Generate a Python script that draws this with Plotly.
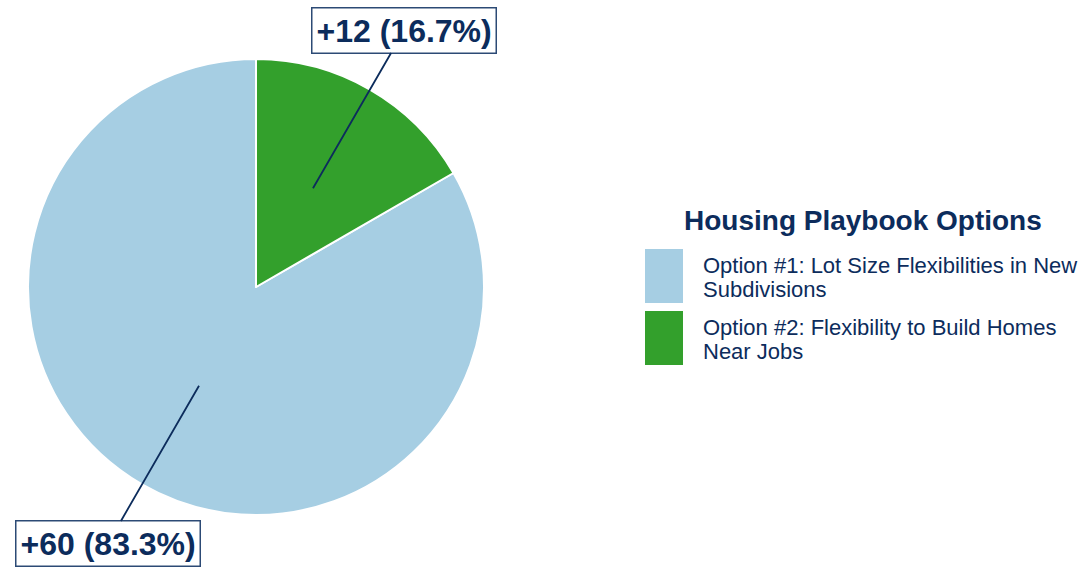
import math
import plotly.graph_objects as go

# ---- data ----
labels = ["Option #1: Lot Size Flexibilities in New<br>Subdivisions",
          "Option #2: Flexibility to Build Homes<br>Near Jobs"]
values = [60, 12]
colors = ["#a6cee3", "#33a02c"]
legend_title = "Housing Playbook Options"

W, H = 1092, 569
NAVY = "#0c2c5c"
FONT = "Liberation Sans, Arial, sans-serif"

# pie placement (pixels)
cx, cy, R = 256, 287, 228

total = sum(values)
# first slice starts where it ends after a full counterclockwise sweep from 12 o'clock
rot = 360.0 * (1 - values[0] / total)

fig = go.Figure(go.Pie(
    labels=labels, values=values, sort=False, direction="clockwise",
    rotation=rot, marker=dict(colors=colors, line=dict(color="white", width=2)),
    textinfo="none", hoverinfo="label+value+percent", showlegend=False,
    domain=dict(x=[(cx - R) / W, (cx + R) / W], y=[1 - (cy + R) / H, 1 - (cy - R) / H]),
))

# label annotations with leader lines, positions derived from the data
cum = 0.0
for v in values:
    # slices sweep counterclockwise from 12 o'clock (angles measured clockwise)
    a0 = -cum / total * 360.0
    a1 = -(cum + v) / total * 360.0
    mid = math.radians((a0 + a1) / 2.0)
    cum += v
    dx, dy = math.sin(mid), -math.cos(mid)  # screen direction (y down)
    px, py = cx + 0.5 * R * dx, cy + 0.5 * R * dy
    lx, ly = cx + 1.3 * R * dx, cy + 1.3 * R * dy
    pct = v / total * 100
    fig.add_annotation(
        x=px / W, y=1 - py / H, xref="paper", yref="paper",
        ax=lx - px, ay=ly - py, axref="pixel", ayref="pixel",
        text=f"<b>+{v} ({pct:.1f}%)</b>", showarrow=True, arrowhead=0,
        arrowwidth=1.8, arrowcolor=NAVY,
        font=dict(family=FONT, size=32, color=NAVY),
        bgcolor="white", bordercolor="#2c4a75", borderwidth=1.5, borderpad=4,
    )

# custom legend
fig.add_annotation(x=863 / W, y=1 - 220 / H, xref="paper", yref="paper",
                   text=f"<b>{legend_title}</b>", showarrow=False,
                   font=dict(family=FONT, size=28, color=NAVY),
                   xanchor="center", yanchor="middle")
for i, (lab, col) in enumerate(zip(labels, colors)):
    y0 = 249 + i * 62
    fig.add_shape(type="rect", xref="paper", yref="paper",
                  x0=645 / W, x1=683 / W, y0=1 - (y0 + 54) / H, y1=1 - y0 / H,
                  fillcolor=col, line=dict(width=0))
    for j, line in enumerate(lab.split("<br>")):
        fig.add_annotation(x=701 / W, y=1 - (y0 + 16 + j * 24) / H,
                           xref="paper", yref="paper",
                           text=line, showarrow=False, align="left",
                           xanchor="left", yanchor="middle",
                           font=dict(family=FONT, size=22, color=NAVY))

fig.update_layout(width=W, height=H, margin=dict(l=0, r=0, t=0, b=0),
                  paper_bgcolor="white", plot_bgcolor="white",
                  font=dict(family=FONT, color=NAVY))
fig.write_html("out.html", config={"displayModeBar": False},
               post_script="document.body.style.margin='0';")
